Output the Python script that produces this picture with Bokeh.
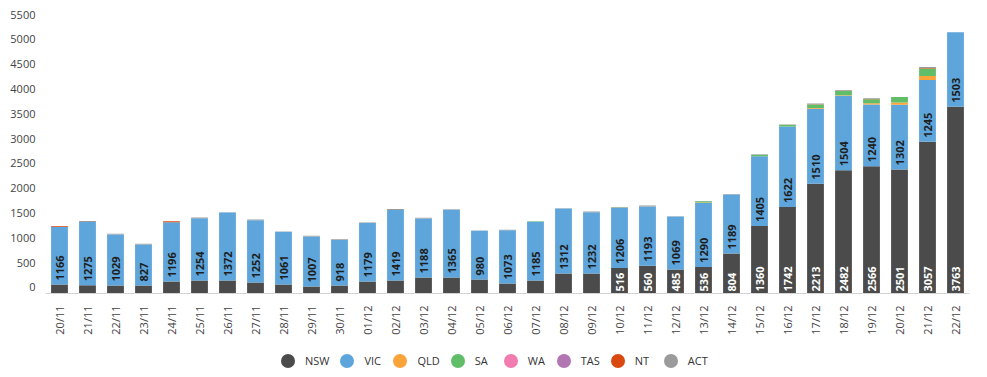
import math
from bokeh.plotting import figure
from bokeh.layouts import column
from bokeh.models import (ColumnDataSource, Range1d, LinearAxis, FixedTicker,
                          Legend, LegendItem, FactorRange)
from bokeh.core.properties import value
from bokeh.embed import file_html
from bokeh.resources import INLINE

dates = ["20/11", "21/11", "22/11", "23/11", "24/11", "25/11", "26/11", "27/11",
         "28/11", "29/11", "30/11", "01/12", "02/12", "03/12", "04/12", "05/12",
         "06/12", "07/12", "08/12", "09/12", "10/12", "11/12", "12/12", "13/12",
         "14/12", "15/12", "16/12", "17/12", "18/12", "19/12", "20/12", "21/12",
         "22/12"]

nsw = [181, 165, 161, 161, 242, 262, 262, 222, 181, 141, 161,
       242, 262, 323, 323, 282, 202, 262, 403, 403, 516, 560, 485, 536, 804,
       1360, 1742, 2213, 2482, 2566, 2501, 3057, 3763]
vic = [1166, 1275, 1029, 827, 1196, 1254, 1372, 1252, 1061, 1007, 918,
       1179, 1419, 1188, 1365, 980, 1073, 1185, 1312, 1232, 1206, 1193, 1069,
       1290, 1189, 1405, 1622, 1510, 1504, 1240, 1302, 1245, 1503]
qld = [0, 0, 0, 0, 0, 0, 0, 0, 0, 0, 0,
       0, 0, 0, 0, 0, 0, 0, 0, 0, 0, 0, 0, 10, 0, 0, 0, 15, 10, 25, 45, 80, 0]
sa = [0, 0, 0, 0, 0, 0, 0, 0, 0, 0, 0,
      0, 0, 0, 0, 0, 0, 8, 0, 0, 10, 0, 0, 25, 0, 30, 30, 70, 85, 85, 110, 150, 0]
wa = [0, 0, 0, 0, 0, 0, 0, 0, 0, 0, 0,
      0, 0, 0, 0, 0, 0, 0, 0, 0, 0, 0, 0, 0, 0, 0, 0, 0, 0, 0, 0, 0, 0]
tas = [0, 0, 0, 0, 0, 0, 0, 0, 0, 0, 0,
       0, 0, 0, 0, 0, 0, 0, 0, 0, 0, 0, 0, 0, 0, 0, 0, 0, 0, 0, 0, 0, 0]
nt = [15, 0, 0, 0, 18, 0, 0, 0, 0, 0, 0,
      0, 0, 0, 0, 0, 0, 0, 0, 0, 0, 0, 0, 0, 0, 0, 0, 5, 5, 5, 0, 10, 0]
act = [0, 20, 15, 15, 0, 15, 5, 15, 8, 15, 15,
       10, 20, 15, 10, 8, 12, 0, 5, 15, 12, 20, 5, 5, 14, 10, 10, 15, 16, 15, 0, 24, 0]

states = ["NSW", "VIC", "QLD", "SA", "WA", "TAS", "NT", "ACT"]
colors = ["#4b4b4b", "#5da5da", "#faa43a", "#60bd68", "#f17cb0", "#b276b2",
          "#d9480f", "#9b9b9b"]
y_ticks = [0, 500, 1000, 1500, 2000, 2500, 3000, 3500, 4000, 4500, 5000, 5500]

FONT = "Open Sans"

src = ColumnDataSource(dict(date=dates, NSW=nsw, VIC=vic, QLD=qld, SA=sa,
                            WA=wa, TAS=tas, NT=nt, ACT=act))

p = figure(x_range=FactorRange(factors=dates), y_range=Range1d(0, 5803),
           width=987, height=344, output_backend="svg", toolbar_location=None,
           y_axis_location=None, min_border_left=45, min_border_right=18,
           min_border_top=5, min_border_bottom=51)
p.outline_line_color = None
p.xgrid.grid_line_color = None
p.ygrid.grid_line_color = None

# y axis on a shifted range so the labels sit slightly above their values
p.extra_y_ranges = {"lab": Range1d(-121, 5682)}
yax = LinearAxis(y_range_name="lab", ticker=FixedTicker(ticks=y_ticks))
yax.axis_line_color = None
yax.major_tick_line_color = None
yax.minor_tick_line_color = None
yax.major_label_standoff = 4
yax.major_label_text_font = FONT
yax.major_label_text_font_size = "11px"
yax.major_label_text_color = "#444444"
p.add_layout(yax, "left")

xax = p.xaxis[0]
xax.axis_line_color = "#d4d4d4"
xax.axis_line_width = 1
xax.major_tick_line_color = None
xax.minor_tick_line_color = None
xax.major_label_orientation = math.pi / 2
xax.major_label_standoff = 6
xax.major_label_text_font = FONT
xax.major_label_text_font_size = "11px"
xax.major_label_text_color = "#444444"

p.vbar_stack(states, x="date", width=0.6, color=colors, line_width=0, source=src)

# value labels
nsw_lab = ColumnDataSource(dict(
    x=[d for d, v in zip(dates, nsw) if v >= 450],
    y=[0 for v in nsw if v >= 450],
    t=[str(v) for v in nsw if v >= 450]))
vic_lab = ColumnDataSource(dict(x=dates, y=nsw, t=[str(v) for v in vic]))

p.text(x="x", y="y", text="t", source=nsw_lab, angle=math.pi / 2,
       text_align="left", text_baseline="middle", y_offset=-2,
       text_font=value(FONT), text_font_size="11px", text_font_style="bold",
       text_color="white")
p.text(x="x", y="y", text="t", source=vic_lab, angle=math.pi / 2,
       text_align="left", text_baseline="middle", y_offset=-4,
       text_font=value(FONT), text_font_size="11px", text_font_style="bold",
       text_color="#1e1e1e")

# legend in its own strip below the chart
lf = figure(width=987, height=33, output_backend="svg", toolbar_location=None,
            x_axis_location=None, y_axis_location=None,
            min_border_left=0, min_border_right=0, min_border_top=0,
            min_border_bottom=0, x_range=Range1d(0, 1), y_range=Range1d(0, 1))
lf.outline_line_color = None
lf.xgrid.grid_line_color = None
lf.ygrid.grid_line_color = None

items = []
for s, c in zip(states, colors):
    # one point placed outside the visible range: only its legend swatch shows
    r = lf.scatter(x=[5], y=[5], marker="circle", size=14, fill_color=c, line_color=None)
    items.append(LegendItem(label=s, renderers=[r]))

legend = Legend(items=items, orientation="horizontal", location=(225, -1),
                glyph_width=35, glyph_height=35, label_standoff=0, spacing=0,
                padding=0, margin=0, border_line_color=None,
                background_fill_alpha=0, label_text_font=FONT,
                label_text_font_size="11px", label_text_color="#333333",
                label_height=35, label_width=18)
lf.add_layout(legend)

layout = column(p, lf, spacing=0)
open("out.html", "w").write(file_html(layout, INLINE))
